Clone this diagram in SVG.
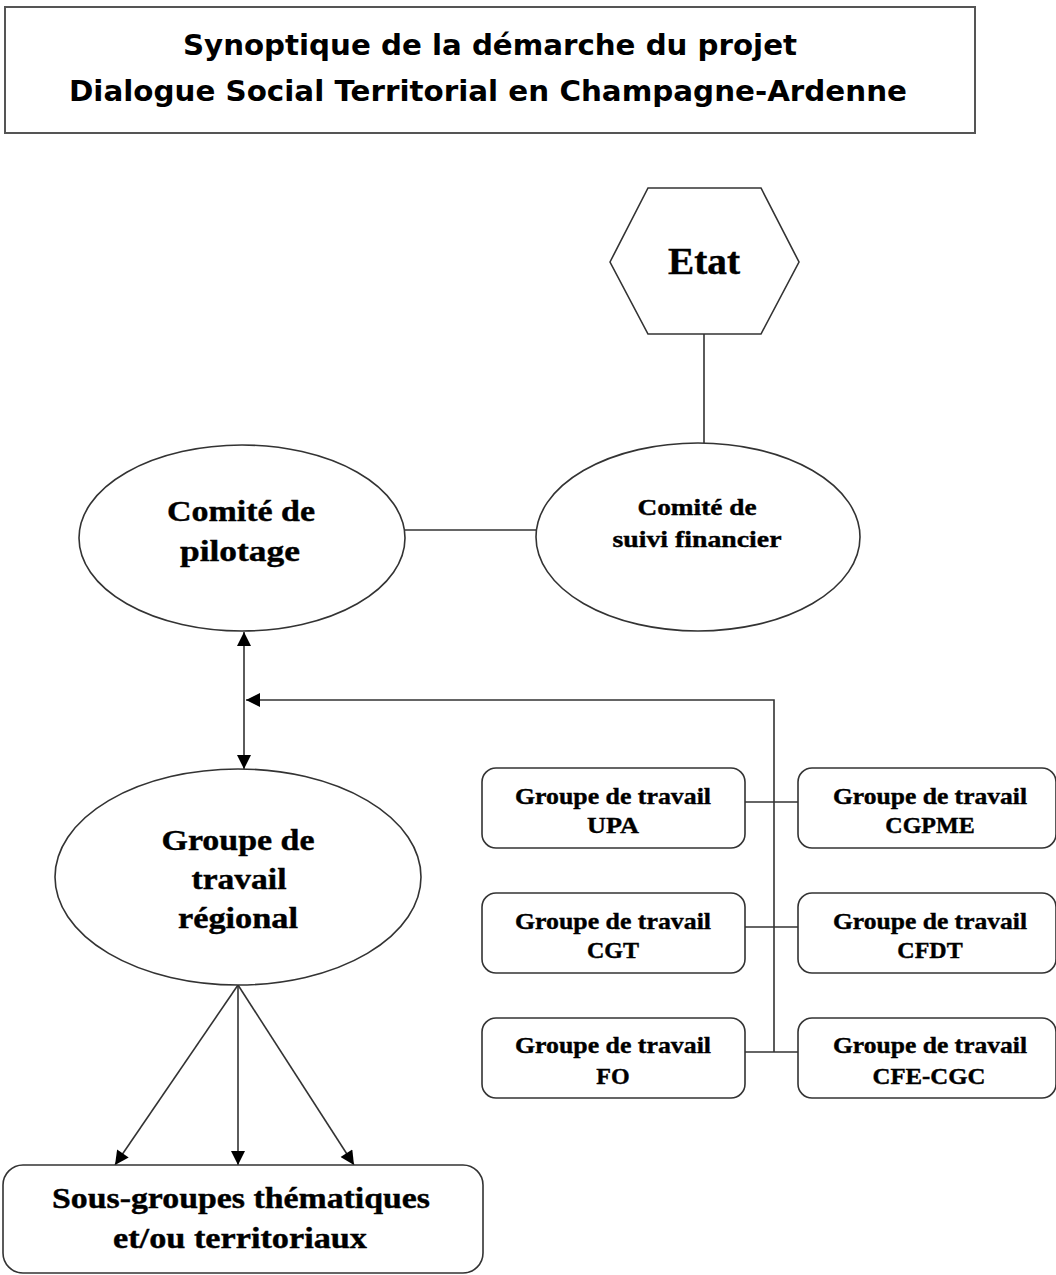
<svg xmlns="http://www.w3.org/2000/svg" width="1056" height="1275" viewBox="0 0 1056 1275">
<style>
.n{fill:#fff;stroke:#333;stroke-width:1.6}
.c{fill:none;stroke:#333;stroke-width:1.6}
.t{font-family:"Liberation Serif","Times New Roman",serif;font-weight:bold;fill:#000;stroke:#000;stroke-width:0.4;text-anchor:middle}
.tt{font-family:"DejaVu Sans",sans-serif;font-weight:bold;fill:#000;text-anchor:middle;font-size:29px}
.s{font-size:24px}
.m{font-size:29px}
</style>
<defs>
<marker id="ah" viewBox="0 0 10 10" refX="10" refY="5" markerWidth="15" markerHeight="14" markerUnits="userSpaceOnUse" orient="auto-start-reverse">
<path d="M0,0 L10,5 L0,10 z" fill="#000"/>
</marker>
</defs>
<g id="title">
<rect x="5" y="7" width="970" height="126" fill="#fff" stroke="#555" stroke-width="2"/>
<text class="tt" x="490" y="55" textLength="614" lengthAdjust="spacingAndGlyphs">Synoptique de la démarche du projet</text>
<text class="tt" x="488" y="101" textLength="838" lengthAdjust="spacingAndGlyphs">Dialogue Social Territorial en Champagne-Ardenne</text>
</g>
<g id="connectors">
<line class="c" x1="704" y1="334" x2="704" y2="443"/>
<line class="c" x1="405" y1="530" x2="536" y2="530"/>
<line class="c" x1="244" y1="632" x2="244" y2="769" marker-start="url(#ah)" marker-end="url(#ah)"/>
<polyline class="c" points="774,1052 774,700 246,700" marker-end="url(#ah)"/>
<line class="c" x1="745" y1="802" x2="798" y2="802"/>
<line class="c" x1="745" y1="927" x2="798" y2="927"/>
<line class="c" x1="745" y1="1052" x2="798" y2="1052"/>
<line class="c" x1="238" y1="985" x2="115" y2="1165" marker-end="url(#ah)"/>
<line class="c" x1="238" y1="985" x2="238" y2="1165" marker-end="url(#ah)"/>
<line class="c" x1="238" y1="985" x2="354" y2="1165" marker-end="url(#ah)"/>
</g>
<g id="etat">
<polygon class="n" points="610,262 648,188 761,188 799,262 761,334 648,334"/>
<text class="t" x="704" y="274" font-size="37" textLength="72" lengthAdjust="spacingAndGlyphs">Etat</text>
</g>
<g id="comite-pilotage">
<ellipse class="n" cx="242" cy="538" rx="163" ry="93"/>
<text class="t m" x="241" y="521" textLength="148" lengthAdjust="spacingAndGlyphs">Comité de</text>
<text class="t m" x="240" y="561" textLength="120" lengthAdjust="spacingAndGlyphs">pilotage</text>
</g>
<g id="comite-suivi">
<ellipse class="n" cx="698" cy="537" rx="162" ry="94"/>
<text class="t s" x="697" y="515" textLength="119" lengthAdjust="spacingAndGlyphs">Comité de</text>
<text class="t s" x="697" y="547" textLength="169" lengthAdjust="spacingAndGlyphs">suivi financier</text>
</g>
<g id="groupe-regional">
<ellipse class="n" cx="238" cy="877" rx="183" ry="108"/>
<text class="t m" x="238" y="850" textLength="153" lengthAdjust="spacingAndGlyphs">Groupe de</text>
<text class="t m" x="239" y="889" textLength="95" lengthAdjust="spacingAndGlyphs">travail</text>
<text class="t m" x="238" y="928" textLength="120" lengthAdjust="spacingAndGlyphs">régional</text>
</g>
<g id="sous-groupes">
<rect class="n" x="3" y="1165" width="480" height="108" rx="20"/>
<text class="t m" x="241" y="1208" textLength="378" lengthAdjust="spacingAndGlyphs">Sous-groupes thématiques</text>
<text class="t m" x="240" y="1248" textLength="254" lengthAdjust="spacingAndGlyphs">et/ou territoriaux</text>
</g>
<g id="gt-upa">
<rect class="n" x="482" y="768" width="263" height="80" rx="14"/>
<text class="t s" x="613" y="804" textLength="196" lengthAdjust="spacingAndGlyphs">Groupe de travail</text>
<text class="t s" x="613" y="833" textLength="52" lengthAdjust="spacingAndGlyphs">UPA</text>
</g>
<g id="gt-cgpme">
<rect class="n" x="798" y="768" width="258" height="80" rx="14"/>
<text class="t s" x="930" y="804" textLength="194" lengthAdjust="spacingAndGlyphs">Groupe de travail</text>
<text class="t s" x="930" y="833">CGPME</text>
</g>
<g id="gt-cgt">
<rect class="n" x="482" y="893" width="263" height="80" rx="14"/>
<text class="t s" x="613" y="929" textLength="196" lengthAdjust="spacingAndGlyphs">Groupe de travail</text>
<text class="t s" x="613" y="958">CGT</text>
</g>
<g id="gt-cfdt">
<rect class="n" x="798" y="893" width="258" height="80" rx="14"/>
<text class="t s" x="930" y="929" textLength="194" lengthAdjust="spacingAndGlyphs">Groupe de travail</text>
<text class="t s" x="930" y="958">CFDT</text>
</g>
<g id="gt-fo">
<rect class="n" x="482" y="1018" width="263" height="80" rx="14"/>
<text class="t s" x="613" y="1053" textLength="196" lengthAdjust="spacingAndGlyphs">Groupe de travail</text>
<text class="t s" x="613" y="1084">FO</text>
</g>
<g id="gt-cfe-cgc">
<rect class="n" x="798" y="1018" width="258" height="80" rx="14"/>
<text class="t s" x="930" y="1053" textLength="194" lengthAdjust="spacingAndGlyphs">Groupe de travail</text>
<text class="t s" x="929" y="1084" textLength="113" lengthAdjust="spacingAndGlyphs">CFE-CGC</text>
</g>
</svg>
